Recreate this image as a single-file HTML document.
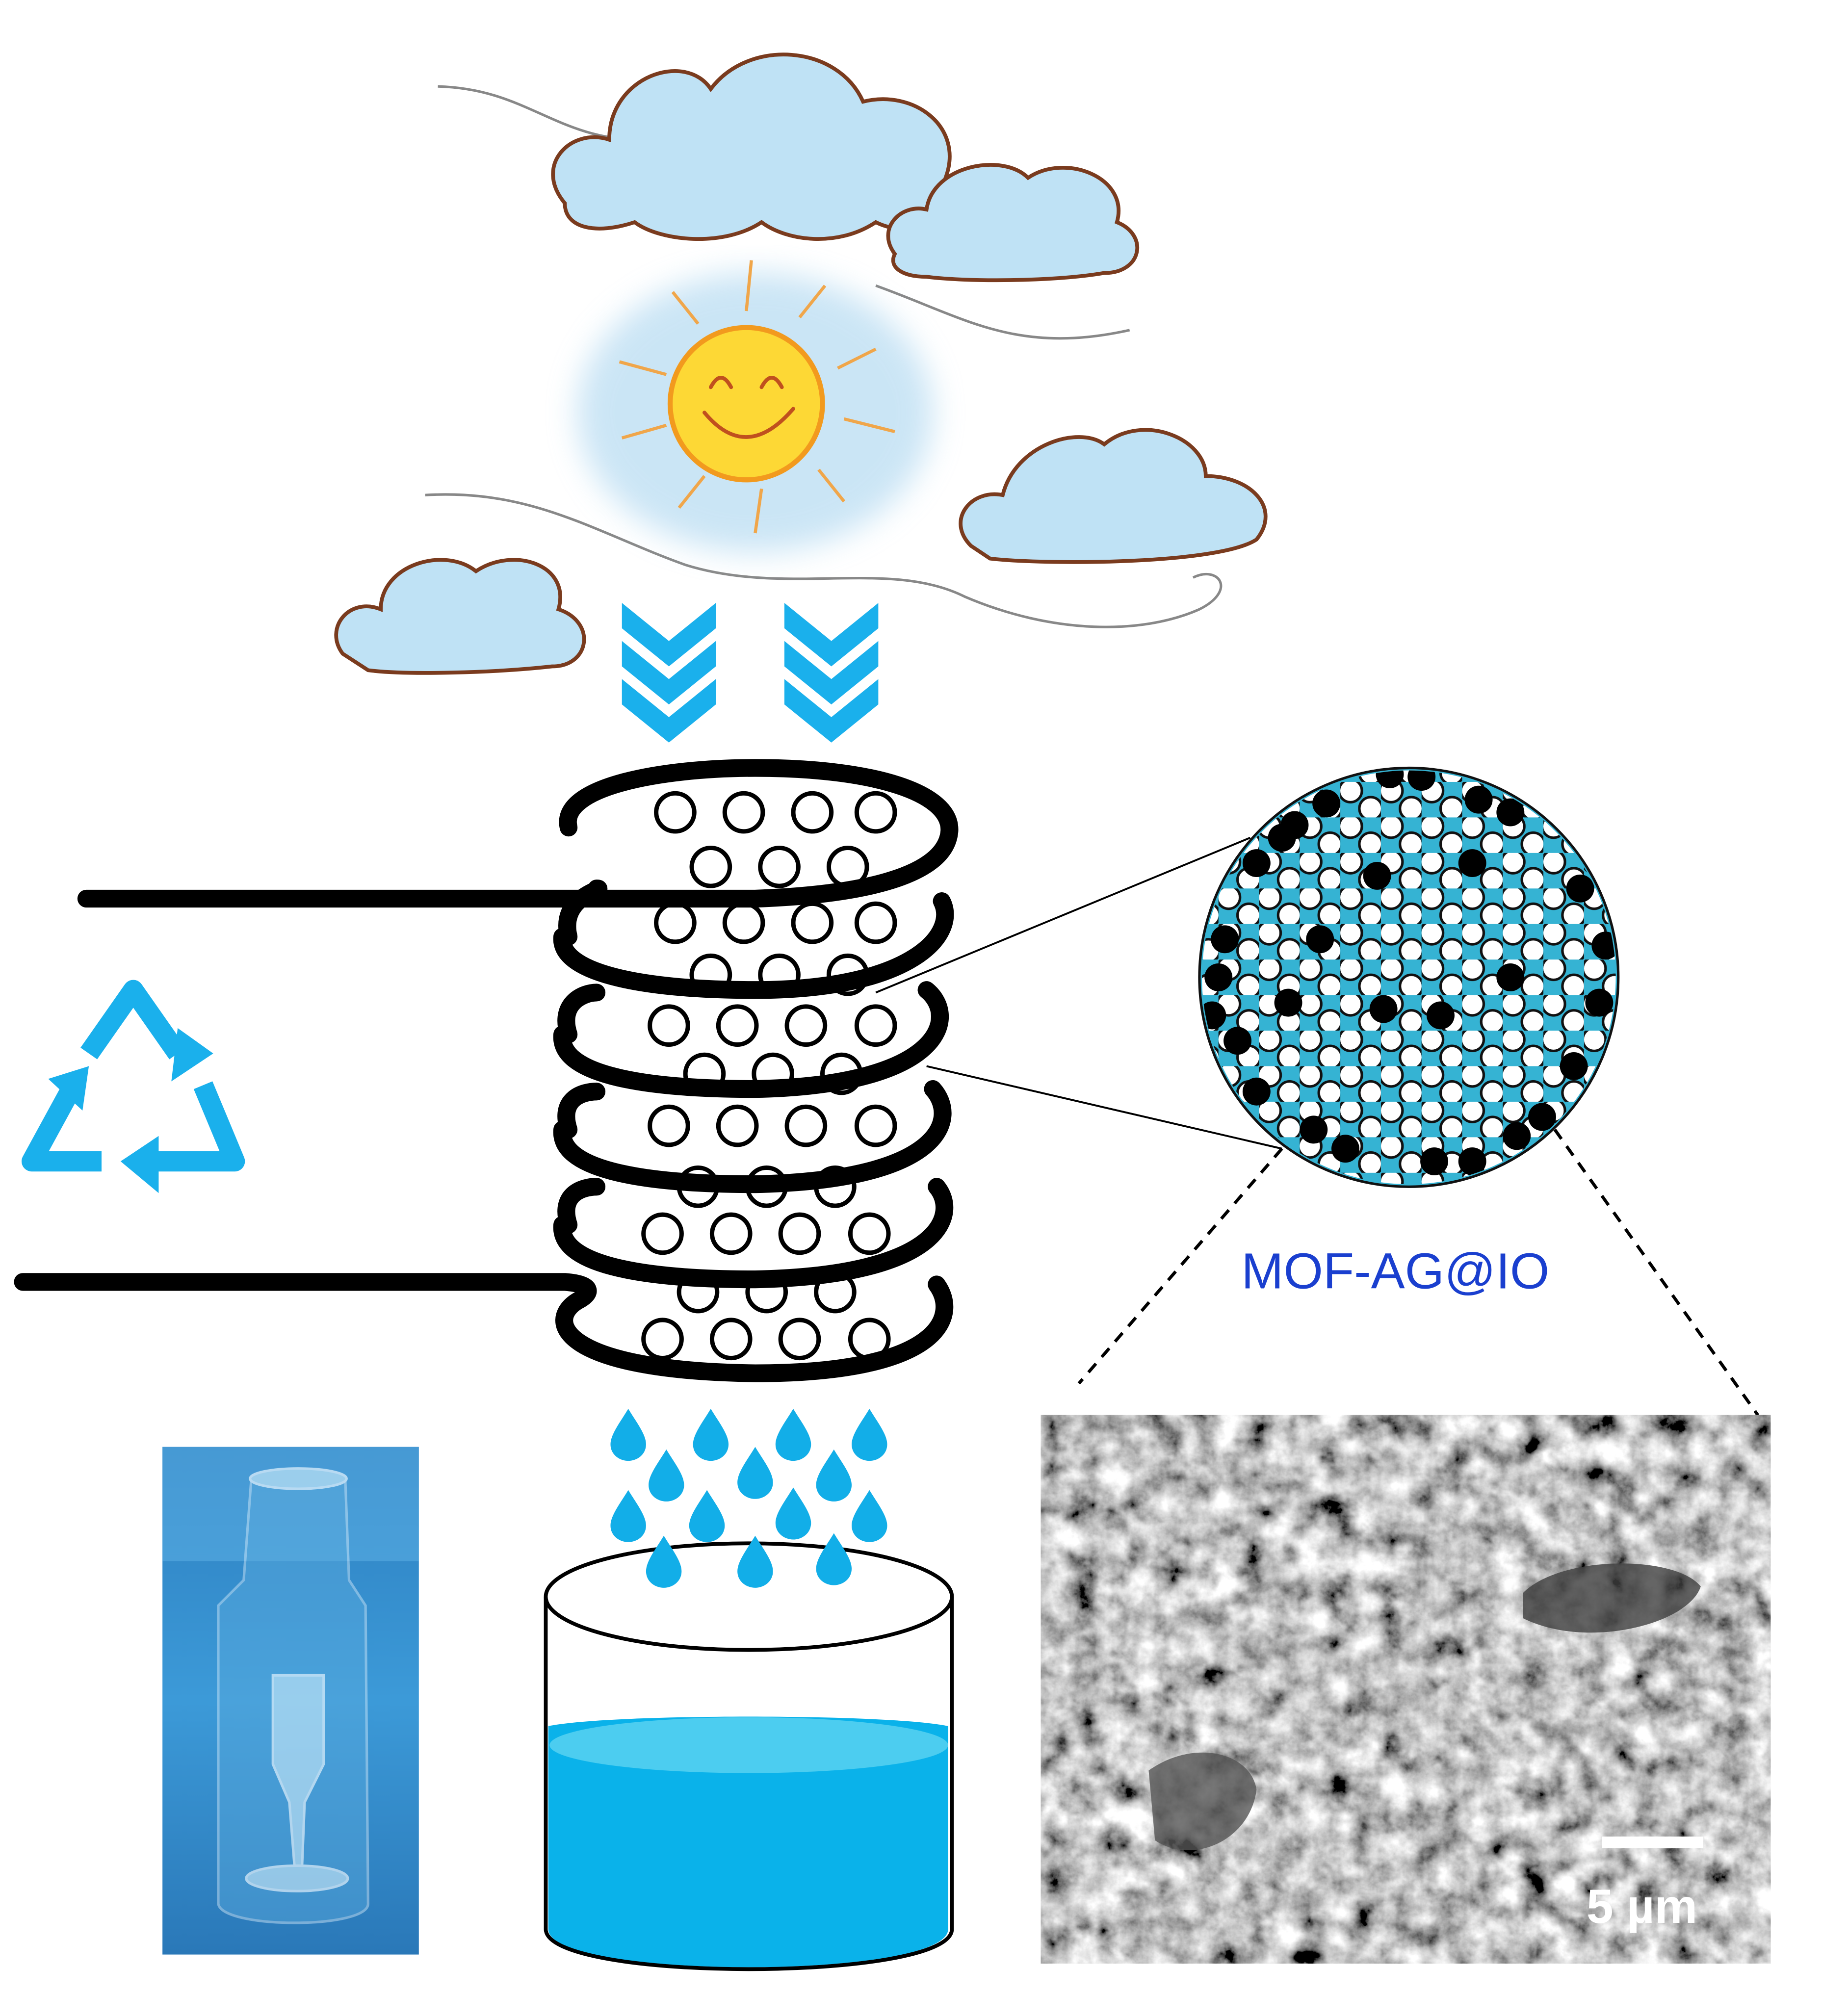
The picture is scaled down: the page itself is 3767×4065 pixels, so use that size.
<!DOCTYPE html>
<html><head><meta charset="utf-8"><style>
html,body{margin:0;padding:0;background:#fff}
svg{display:block}
</style></head><body>
<svg width="3767" height="4065" viewBox="0 0 1456 1571" xmlns="http://www.w3.org/2000/svg">
<defs>
<filter id="sem" x="0" y="0" width="100%" height="100%">
<feTurbulence type="fractalNoise" baseFrequency="0.045" numOctaves="5" seed="3"/>
<feColorMatrix type="matrix" values="0.33 0.33 0.33 0 0  0.33 0.33 0.33 0 0  0.33 0.33 0.33 0 0  0 0 0 0 1"/>
<feComponentTransfer><feFuncR type="linear" slope="2.8" intercept="-0.85"/><feFuncG type="linear" slope="2.8" intercept="-0.85"/><feFuncB type="linear" slope="2.8" intercept="-0.85"/></feComponentTransfer>
</filter>
<filter id="blur"><feGaussianBlur stdDeviation="12"/></filter>
<pattern id="dots" x="0" y="0" width="32" height="28" patternUnits="userSpaceOnUse">
<circle cx="8" cy="7" r="9" fill="#fff" stroke="#111" stroke-width="2"/>
<circle cx="24" cy="21" r="9" fill="#fff" stroke="#111" stroke-width="2"/>
</pattern>
<clipPath id="cc"><circle cx="1110" cy="770" r="163"/></clipPath>
<linearGradient id="vial" x1="0" y1="0" x2="0" y2="1"><stop offset="0" stop-color="#2d7fc0"/><stop offset="0.5" stop-color="#3c9ad8"/><stop offset="1" stop-color="#2a78b8"/></linearGradient>
</defs>

<g fill="none" stroke="#888" stroke-width="2">
<path d="M345 68 C420 70 440 115 520 110 C560 108 575 90 560 80"/>
<path d="M690 225 C760 250 800 280 890 260"/>
<path d="M335 390 C420 385 470 420 540 445 C620 470 700 440 760 470 C830 500 900 500 945 480 C975 465 960 445 940 455"/>
</g>

<g fill="#bfe2f5" stroke="#7a3b1e" stroke-width="3">
<path d="M445 160 C420 130 450 100 480 110 C480 60 540 40 560 70 C590 30 660 35 680 80 C720 70 760 100 745 140 C760 170 720 190 690 175 C660 195 620 190 600 175 C570 195 520 190 500 175 C470 185 445 180 445 160 Z"/>
<path d="M705 200 C690 180 710 160 730 165 C735 130 790 120 810 140 C840 120 890 140 880 175 C905 185 900 215 870 215 C830 222 760 222 730 218 C710 218 700 210 705 200 Z"/>
<path d="M765 430 C745 410 765 385 790 390 C800 350 850 335 870 350 C900 325 950 345 950 375 C985 375 1010 400 990 425 C960 445 820 445 780 440 Z"/>
<path d="M270 515 C255 495 275 470 300 480 C300 445 350 430 375 450 C405 430 450 445 440 480 C470 490 465 525 435 525 C390 530 320 532 290 528 Z"/>
</g>

<g filter="url(#blur)" opacity="0.6">
<ellipse cx="595" cy="325" rx="140" ry="110" fill="#a8d4ef"/>
</g>
<g stroke="#f0a64a" stroke-width="2.5" fill="none">
<path d="M588 245 L592 205"/><path d="M630 250 L650 225"/><path d="M660 290 L690 275"/><path d="M665 330 L705 340"/>
<path d="M645 370 L665 395"/><path d="M600 385 L595 420"/><path d="M555 375 L535 400"/><path d="M525 335 L490 345"/>
<path d="M525 295 L488 285"/><path d="M550 255 L530 230"/>
</g>
<circle cx="588" cy="318" r="60" fill="#fdd835" stroke="#f29a1e" stroke-width="4"/>
<g stroke="#c0501e" stroke-width="3" fill="none" stroke-linecap="round">
<path d="M560 305 Q568 290 576 305"/><path d="M600 305 Q608 290 616 305"/>
<path d="M555 325 Q588 365 625 322"/>
</g>

<g fill="#1ab0ec">
<path d="M490 475 L527 505 L564 475 L564 495 L527 525 L490 495 Z"/>
<path d="M490 505 L527 535 L564 505 L564 525 L527 555 L490 525 Z"/>
<path d="M490 535 L527 565 L564 535 L564 555 L527 585 L490 555 Z"/>
<path d="M618 475 L655 505 L692 475 L692 495 L655 525 L618 495 Z"/>
<path d="M618 505 L655 535 L692 505 L692 525 L655 555 L618 525 Z"/>
<path d="M618 535 L655 565 L692 535 L692 555 L655 585 L618 555 Z"/>
</g>

<g fill="none" stroke="#000" stroke-width="3.5">
<g><circle cx="532" cy="640" r="15"/><circle cx="586" cy="640" r="15"/><circle cx="640" cy="640" r="15"/><circle cx="690" cy="640" r="15"/></g>
<g><circle cx="560" cy="683" r="15"/><circle cx="614" cy="683" r="15"/><circle cx="668" cy="683" r="15"/></g>
<g><circle cx="532" cy="727" r="15"/><circle cx="586" cy="727" r="15"/><circle cx="640" cy="727" r="15"/><circle cx="690" cy="727" r="15"/></g>
<g><circle cx="560" cy="768" r="15"/><circle cx="614" cy="768" r="15"/><circle cx="668" cy="768" r="15"/></g>
<g><circle cx="527" cy="808" r="15"/><circle cx="581" cy="808" r="15"/><circle cx="635" cy="808" r="15"/><circle cx="690" cy="808" r="15"/></g>
<g><circle cx="555" cy="846" r="15"/><circle cx="609" cy="846" r="15"/><circle cx="663" cy="846" r="15"/></g>
<g><circle cx="527" cy="887" r="15"/><circle cx="581" cy="887" r="15"/><circle cx="635" cy="887" r="15"/><circle cx="690" cy="887" r="15"/></g>
<g><circle cx="550" cy="935" r="15"/><circle cx="604" cy="935" r="15"/><circle cx="658" cy="935" r="15"/></g>
<g><circle cx="522" cy="972" r="15"/><circle cx="576" cy="972" r="15"/><circle cx="630" cy="972" r="15"/><circle cx="685" cy="972" r="15"/></g>
<g><circle cx="550" cy="1018" r="15"/><circle cx="604" cy="1018" r="15"/><circle cx="658" cy="1018" r="15"/></g>
<g><circle cx="522" cy="1055" r="15"/><circle cx="576" cy="1055" r="15"/><circle cx="630" cy="1055" r="15"/><circle cx="685" cy="1055" r="15"/></g>
</g>

<g fill="none" stroke="#000" stroke-width="14" stroke-linecap="round">
<path d="M448 652 C440 620 520 605 595 605 C690 605 750 625 748 655 C745 690 680 705 595 708 L68 708"/>
<path d="M448 738 C440 705 480 700 470 700 M742 710 C755 735 720 780 595 780 C500 780 440 765 443 738"/>
<path d="M448 815 C440 790 460 782 470 782 M730 780 C755 800 745 855 595 858 C500 858 440 845 443 815"/>
<path d="M448 890 C440 865 460 860 470 860 M735 858 C755 880 745 930 595 933 C500 933 440 920 443 890"/>
<path d="M448 965 C440 940 460 935 470 935 M738 935 C755 955 745 1005 595 1008 C500 1008 440 995 443 965"/>
<path d="M18 1010 L445 1010 C470 1012 465 1020 455 1025 C430 1040 440 1080 595 1082 C745 1082 755 1035 738 1012"/>
</g>

<g stroke="#000" stroke-width="1.5">
<line x1="690" y1="782" x2="985" y2="660"/>
<line x1="730" y1="840" x2="1010" y2="905"/>
</g>
<g stroke="#000" stroke-width="2.5" stroke-dasharray="9 7">
<line x1="1010" y1="905" x2="850" y2="1090"/>
<line x1="1225" y1="890" x2="1385" y2="1115"/>
</g>

<circle cx="1110" cy="770" r="165" fill="#35b3d3"/>
<g clip-path="url(#cc)">
<rect x="940" y="600" width="340" height="340" fill="url(#dots)"/>
<g fill="#000">
<circle cx="1045" cy="633" r="11"/><circle cx="1120" cy="612" r="11"/><circle cx="1165" cy="630" r="11"/><circle cx="1190" cy="640" r="11"/>
<circle cx="990" cy="680" r="11"/><circle cx="1245" cy="700" r="11"/><circle cx="965" cy="740" r="11"/><circle cx="960" cy="770" r="11"/>
<circle cx="1040" cy="740" r="11"/><circle cx="1085" cy="690" r="11"/><circle cx="1160" cy="680" r="11"/><circle cx="1190" cy="770" r="11"/>
<circle cx="1135" cy="800" r="11"/><circle cx="1015" cy="790" r="11"/><circle cx="1090" cy="795" r="11"/><circle cx="1265" cy="745" r="11"/>
<circle cx="1240" cy="840" r="11"/><circle cx="1215" cy="880" r="11"/><circle cx="1130" cy="915" r="11"/><circle cx="1060" cy="905" r="11"/>
<circle cx="1035" cy="890" r="11"/><circle cx="990" cy="860" r="11"/><circle cx="975" cy="820" r="11"/><circle cx="1195" cy="895" r="11"/>
<circle cx="1010" cy="660" r="11"/><circle cx="1260" cy="790" r="11"/><circle cx="955" cy="800" r="11"/><circle cx="1095" cy="610" r="11"/>
<circle cx="1020" cy="650" r="11"/><circle cx="1160" cy="915" r="11"/>
</g>
</g>
<circle cx="1110" cy="770" r="165" fill="none" stroke="#111" stroke-width="2"/>

<text x="978" y="1015" font-family="Liberation Sans, sans-serif" font-size="40" fill="#1a3fcf">MOF-AG@IO</text>

<g fill="none" stroke="#1ab0ec" stroke-width="16" stroke-linejoin="round">
<path d="M70 830 L105 780 L140 830"/>
<path d="M160 855 L185 915 L120 915"/>
<path d="M80 915 L25 915 L55 860"/>
</g>
<g fill="#1ab0ec">
<polygon points="140,810 168,830 135,852"/>
<polygon points="125,895 95,915 125,940"/>
<polygon points="38,850 70,840 65,875"/>
</g>

<rect x="820" y="1115" width="575" height="432" fill="#777"/>
<rect x="820" y="1115" width="575" height="432" filter="url(#sem)"/>
<path d="M1200 1255 C1230 1225 1320 1225 1340 1250 C1330 1280 1250 1300 1200 1275 Z" fill="#3e3e3e" opacity="0.8"/>
<path d="M905 1395 C940 1370 985 1380 990 1410 C985 1450 940 1470 910 1450 Z" fill="#555" opacity="0.8"/>
<rect x="1262" y="1447" width="80" height="9" fill="#fff"/>
<text x="1250" y="1515" font-family="Liberation Sans, sans-serif" font-weight="bold" font-size="38" fill="#fff">5 µm</text>

<rect x="128" y="1140" width="202" height="400" fill="url(#vial)"/>
<rect x="128" y="1140" width="202" height="90" fill="#5fb3e8" opacity="0.5"/>
<g fill="#bfe4f7" opacity="0.7" stroke="#e8f6ff" stroke-width="2">
<path d="M198 1165 L272 1165 L275 1245 L288 1265 L290 1500 C290 1520 175 1520 172 1500 L172 1265 L192 1245 Z" fill="#5eaee0" opacity="0.6"/>
<ellipse cx="235" cy="1165" rx="38" ry="8"/>
<path d="M215 1320 L255 1320 L255 1390 L240 1420 L238 1470 L232 1470 L228 1420 L215 1390 Z"/>
<ellipse cx="234" cy="1480" rx="40" ry="10"/>
</g>

<path d="M432 1360 C480 1350 700 1350 747 1360 L747 1520 C747 1560 432 1560 432 1520 Z" fill="#0ab2ea"/>
<ellipse cx="590" cy="1375" rx="157" ry="22" fill="#4ccdf0"/>
<path d="M430 1258 L430 1520 C430 1562 750 1562 750 1520 L750 1258" fill="none" stroke="#000" stroke-width="3"/>
<ellipse cx="590" cy="1258" rx="160" ry="42" fill="#fff" stroke="#000" stroke-width="3"/>

<g fill="#12aee8">
<path id="d" d="M0 -22 C6 -12 14 -2 14 6 C14 14 7 19 0 19 C-7 19 -14 14 -14 6 C-14 -2 -6 -12 0 -22 Z" transform="translate(495,1132)"/>
<use href="#d" x="65" y="0"/><use href="#d" x="130" y="0"/><use href="#d" x="190" y="0"/>
<use href="#d" x="30" y="32"/><use href="#d" x="100" y="30"/><use href="#d" x="162" y="32"/>
<use href="#d" x="0" y="64"/><use href="#d" x="62" y="64"/><use href="#d" x="130" y="62"/><use href="#d" x="190" y="64"/>
<use href="#d" x="28" y="100"/><use href="#d" x="100" y="100"/><use href="#d" x="162" y="98"/>
</g>
</svg>
</body></html>
